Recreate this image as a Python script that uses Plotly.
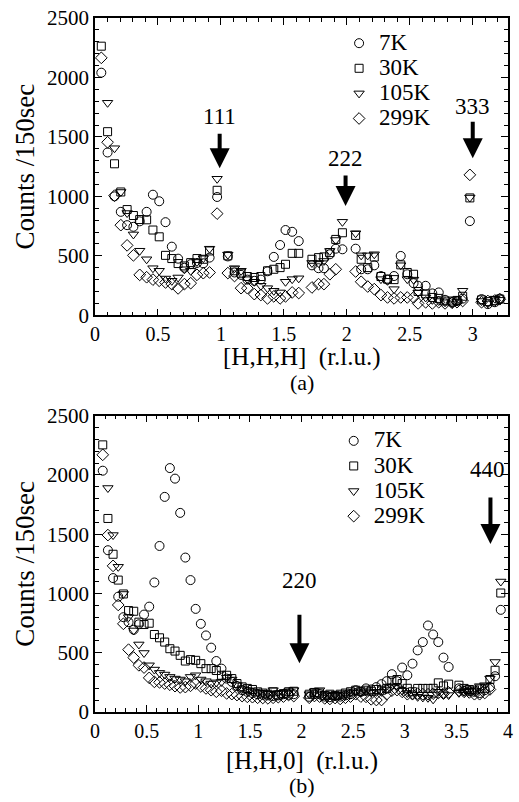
import plotly.graph_objects as go

# ---------------- Panel (a): [H,H,H] scan ----------------
H_a = [0.05, 0.10, 0.155, 0.205, 0.255, 0.305, 0.355, 0.41, 0.46, 0.51, 0.56, 0.61, 0.66, 0.71, 0.76, 0.81, 0.86, 0.91,
       0.97,
       1.055, 1.108, 1.16, 1.21, 1.265, 1.317, 1.37, 1.42, 1.47, 1.513, 1.566, 1.618,
       1.723, 1.775, 1.818, 1.865, 1.912, 1.965,
       2.07, 2.114, 2.166, 2.218, 2.271, 2.323, 2.375, 2.428, 2.48, 2.53, 2.566, 2.626, 2.679, 2.73, 2.78, 2.836, 2.875, 2.92,
       2.977,
       3.07, 3.12, 3.175, 3.215]

K7_a = [2040, 1369, 1000, 870, 758, 744, 790, 870, 1014, 959, 783, 577, 476, 400, 430, 440, 437, 485,
        995,
        495, 360, 340, 300, 290, 300, 370, 491, 591, 717, 702, 624,
        420, 396, 396, 513, 560, 555,
        560, 387, 387, 420, 330, 300, 330, 499, 345, 270, 248, 248, 184, 192, 130, 110, 120, 140,
        792,
        136, 94, 110, 140]
K30_a = [2263, 1544, 1274, 1037, 889, 839, 805, 803, 717, 660, 504, 477, 435, 415, 443, 477, 471, 541,
         1051,
         500, 374, 354, 326, 318, 326, 374, 387, 401, 429, 521, 521,
         471, 485, 491, 527, 638, 694,
         672, 471, 401, 490, 326, 304, 300, 424, 360, 345, 200, 180, 150, 142, 120, 120, 125, 160,
         987,
         130, 115, 123, 136]
K105_a = [None, 1787, 1405, 1037, 860, 680, 543, 471, 396, 374, 309, 290, 318, 387, 374, 449, 480, 560,
          1148,
          510, 396, 374, 304, 282, 248, 228, 206, 192, 282, 304, 311,
          440, 440, 457, 541, 633, 786,
          690, 504, 504, 513, 304, 290, 220, 421, 304, 300, 190, 150, 130, 120, 110, 100, 115, 206,
          990,
          120, 100, 140, 130]
K299_a = [2165, 1455, 1006, 758, 588, 504, 340, 320, 300, 290, 276, 262, 226, 262, 270, 340, 354, 360,
          855,
          355, 330, 228, 228, 178, 170, 142, 159, 142, 159, 192, 187,
          234, 262, 262, 345, 387, None,
          368, 282, 242, 220, 170, 150, 142, 150, 150, 150, 100, 109, 100, 110, 100, 105, 110, 120,
          1181,
          110, 120, 125, 135]

# ---------------- Panel (b): [H,H,0] scan ----------------
H_b = [0.075, 0.125, 0.175, 0.225, 0.275, 0.325, 0.375, 0.425, 0.475, 0.525, 0.575, 0.625, 0.675, 0.725, 0.775,
       0.825, 0.875, 0.925, 0.975, 1.025, 1.075, 1.125, 1.175, 1.225, 1.275, 1.325, 1.375, 1.425, 1.475, 1.525,
       1.575, 1.625, 1.675, 1.725, 1.775, 1.825, 1.875, 1.925,
       2.075, 2.125, 2.175, 2.225, 2.275, 2.325, 2.375, 2.425, 2.475, 2.525, 2.575, 2.625, 2.675, 2.725, 2.775,
       2.825, 2.875, 2.925, 2.975, 3.025, 3.075, 3.125, 3.175, 3.225, 3.275, 3.325, 3.375, 3.425, 3.475, 3.525,
       3.575, 3.625, 3.675, 3.725, 3.775, 3.825, 3.875,
       3.93]

K7_b = [2036, 1365, 1130, 973, 800, 758, 694, 740, 822, 889, 1093, 1401, 1815, 2058, 1969, 1680, 1303, 1113, 870,
        744, 646, 543, 430, 366, 282, 254, 220, 184, 170, 160, 150, 145, 140, 135, 140, 150, 145, 150,
        128, 150, 150, 130, 125, 135, 130, 140, 150, 184, 170, 199, 190, 210, 235, 260, 319, 260, 375, 310, 408,
        520, 590, 730, 654, 590, 459, 380, None, 200, 180, 175, 170, 160, 184, 212, 302,
        862]
K30_b = [2254, 1633, 1331, 1113, 996, 856, 850, 758, 738, 749, 654, 626, 590, 534, 514, 478, 430, 442, 436,
         408, 366, 366, 350, 310, 310, 282, 240, 212, 199, 190, 170, 160, 150, 170, 143, 155, 171, 175,
         150, 165, 160, 140, 150, 140, 150, 160, 171, 184, 175, 184, 175, 190, 184, 199, 263, 274, 240, 200, 171,
         199, 199, 199, 200, 246, 220, 235, None, 226, 199, 190, 185, 195, 200, 274, 352,
         1004]
K105_b = [None, 1890, 1493, 1225, 996, 800, 688, 570, 498, 394, 358, 330, 316, 296, 282, 274, 260, 296, 310,
          274, 260, 240, 250, 254, 290, 274, 226, 200, 185, 175, 165, 160, 155, 184, 160, 160, 175, 184,
          150, 175, 184, 150, 140, 145, 140, 150, 165, 175, 165, 175, 165, 170, 170, 190, 218, 210, 180, 160, 143,
          128, 123, 120, 107, 171, 150, 143, None, 162, 170, 180, 175, 218, 226, 282, 422,
          1101]
K299_b = [2170, 1493, 1233, 903, 744, 526, 459, 394, 375, 288, 254, 250, 240, 230, 218, 207, 210, 221, 240,
          215, 199, 184, 171, 179, 157, 151, 143, 134, 128, 125, 120, 118, 115, 120, 125, 130, 143, 134,
          120, 135, 130, 115, 110, 118, 110, 120, 130, 150, 130, 128, 107, 101, 101, 150, 180, 185, 170, 150, 150,
          155, 150, 150, 155, 160, 155, 165, None, 180, 170, 165, 150, 150, 160, 190, None,
          None]

NAMES = ["7K", "30K", "105K", "299K"]
SYMBOLS = ["circle-open", "square-open", "triangle-down-open", "diamond-open"]
SIZES = [9, 8, 9, 9]

X_TITLES = ["[H,H,H]  (r.l.u.)", "[H,H,0]  (r.l.u.)"]
PANEL_TAGS = ["(a)", "(b)"]

FONT = "Liberation Serif"

fig = go.Figure()
for name, sym, sz, ya, yb in zip(NAMES, SYMBOLS, SIZES,
                                 [K7_a, K30_a, K105_a, K299_a],
                                 [K7_b, K30_b, K105_b, K299_b]):
    mk = dict(symbol=sym, size=sz, color="black", line=dict(width=1, color="black"))
    label = '<span style="font-size:23px">%s</span>' % name
    fig.add_trace(go.Scatter(x=H_a, y=ya, mode="markers", name=label, marker=mk,
                             xaxis="x", yaxis="y", legend="legend"))
    fig.add_trace(go.Scatter(x=H_b, y=yb, mode="markers", name=label, marker=mk,
                             xaxis="x2", yaxis="y2", legend="legend2"))

def xax(rng, anchor):
    return dict(range=rng, tick0=0, dtick=0.5, ticks="inside", ticklen=7, tickwidth=1, tickcolor="black",
                minor=dict(ticks="inside", dtick=0.1, ticklen=4, tickwidth=1, tickcolor="black"),
                showline=True, linecolor="black", linewidth=1.5, mirror="allticks",
                showgrid=False, zeroline=False, anchor=anchor, domain=[0, 1],
                tickfont=dict(family=FONT, size=20, color="black"))

def yax(dom, anchor):
    return dict(range=[0, 2500], tick0=0, dtick=500, ticks="inside", ticklen=7, tickwidth=1, tickcolor="black",
                minor=dict(ticks="inside", dtick=100, ticklen=4, tickwidth=1, tickcolor="black"),
                showline=True, linecolor="black", linewidth=1.5, mirror="allticks",
                showgrid=False, zeroline=False, anchor=anchor, domain=dom,
                tickfont=dict(family=FONT, size=21, color="black"),
                title=dict(text="Counts /150sec", font=dict(family=FONT, size=27, color="black"), standoff=5))

ann_font = dict(family=FONT, size=23, color="black")
annotations = []
# Bragg peak arrows and labels
for xr, yr, x, y_tip, length, x_txt, y_txt, label in [
        ("x", "y", 0.99, 1237, 36, 0.99, 1672, "111"),
        ("x", "y", 1.99, 920, 32, 1.99, 1321, "222"),
        ("x", "y", 3.00, 1321, 38, 3.00, 1756, "333"),
        ("x2", "y2", 1.98, 411, 50, 1.98, 1107, "220"),
        ("x2", "y2", 3.83, 1418, 48, 3.80, 2047, "440")]:
    annotations.append(dict(xref=xr, yref=yr, x=x, y=y_tip, ax=0, ay=-length, showarrow=True,
                            arrowhead=2, arrowsize=1.0, arrowwidth=4, arrowcolor="black", text=""))
    annotations.append(dict(xref=xr, yref=yr, x=x_txt, y=y_txt, text=label,
                            showarrow=False, font=ann_font))

# x-axis titles and panel tags (paper coords, pixel rows converted)
for title, tag, y_title_px, y_tag_px in zip(X_TITLES, PANEL_TAGS, [355, 761], [381, 786]):
    annotations.append(dict(xref="paper", yref="paper", x=0.5, y=(712 - y_title_px) / 698, text=title,
                            showarrow=False, font=dict(family=FONT, size=25, color="black"),
                            yanchor="middle", borderpad=0))
    annotations.append(dict(xref="paper", yref="paper", x=0.5, y=(712 - y_tag_px) / 698, text=tag,
                            showarrow=False, font=dict(family=FONT, size=22, color="black"),
                            yanchor="middle", borderpad=0))

leg_common = dict(xanchor="left", yanchor="top", bgcolor="rgba(0,0,0,0)",
                  font=dict(family=FONT, size=17, color="black"), itemwidth=30, tracegroupgap=0)

fig.update_layout(
    width=519, height=802,
    margin=dict(l=95, r=6, t=14, b=90),
    paper_bgcolor="white", plot_bgcolor="white",
    font=dict(family=FONT, color="black"),
    xaxis=xax([0, 3.28], "y"),
    yaxis=yax([(712 - 313) / 698, 1], "x"),
    xaxis2=xax([0, 4.0], "y2"),
    yaxis2=yax([0, (712 - 414) / 698], "x2"),
    legend=dict(x=0.591, y=0.989, **leg_common),
    legend2=dict(x=0.578, y=0.416, **leg_common),
    annotations=annotations,
    showlegend=True,
)

fig.write_html("out.html")
